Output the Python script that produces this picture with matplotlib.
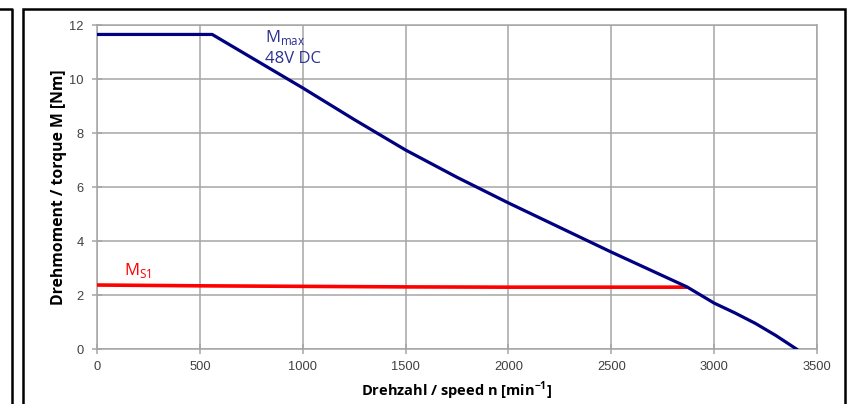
import matplotlib.pyplot as plt
from matplotlib.patches import Rectangle
from matplotlib.lines import Line2D

# torque curves
n_max = [0, 560, 1000, 1250, 1500, 1750, 2000, 2500, 2868, 3000, 3100, 3200, 3300, 3400]
m_max = [11.65, 11.65, 9.67, 8.50, 7.37, 6.36, 5.41, 3.59, 2.30, 1.70, 1.34, 0.95, 0.50, 0.0]

n_s1 = [0, 500, 1000, 1500, 2000, 2500, 2868]
m_s1 = [2.37, 2.34, 2.32, 2.30, 2.29, 2.29, 2.29]

x_ticks = [0, 500, 1000, 1500, 2000, 2500, 3000, 3500]
y_ticks = [0, 2, 4, 6, 8, 10, 12]

W, H = 848, 404
fig = plt.figure(figsize=(W / 100, H / 100), dpi=100)
ax = fig.add_axes([97 / W, 1 - 349 / H, 720 / W, 324 / H])

grid_c = "#a6a6a6"
ax.set_xlim(0, 3500)
ax.set_ylim(0, 12)
ax.set_xticks(x_ticks)
ax.set_yticks(y_ticks)
ax.grid(True, color=grid_c, linewidth=1.1)
ax.set_axisbelow(True)
for s in ax.spines.values():
    s.set_color(grid_c)
    s.set_linewidth(1.1)
ax.tick_params(direction="inout", length=7, width=1.1, color=grid_c,
               labelsize=9.3, labelcolor="#404040", pad=5)
ax.tick_params(axis="y", pad=6)
for lab in ax.get_xticklabels() + ax.get_yticklabels():
    lab.set_family("Liberation Sans")

ax.plot(n_s1, m_s1, color="#ff0000", linewidth=2.6, solid_capstyle="butt", zorder=3)
ax.plot(n_max, m_max, color="#000080", linewidth=2.3, zorder=4)

ax.text(817, 11.37, r"M$_{\mathregular{max}}$", color="#2e3192", fontsize=12,
        family="Open Sans")
ax.text(817, 10.6, "48V DC", color="#2e3192", fontsize=12, family="Open Sans")
ax.text(130, 2.74, r"M$_{\mathregular{S1}}$", color="#ff0000", fontsize=12,
        family="Open Sans")

ax.set_xlabel(r"Drehzahl / speed n [min$^{\mathregular{-1}}$]", fontsize=10.5,
              fontweight="bold", family="Open Sans", labelpad=5)
ax.set_ylabel("Drehmoment / torque M [Nm]", fontsize=11.3, fontweight="bold",
              family="Open Sans", labelpad=1.5)

# surrounding frames
fig.add_artist(Rectangle((23 / W, -0.05), 822 / W, 1.05 - 9 / H,
                         transform=fig.transFigure, fill=False,
                         edgecolor="black", linewidth=1.8))
fig.add_artist(Line2D([0, 12 / W, 12 / W], [1 - 9 / H, 1 - 9 / H, 0],
                      transform=fig.transFigure, color="black", linewidth=1.8))

fig.savefig("out.png", dpi=100)
